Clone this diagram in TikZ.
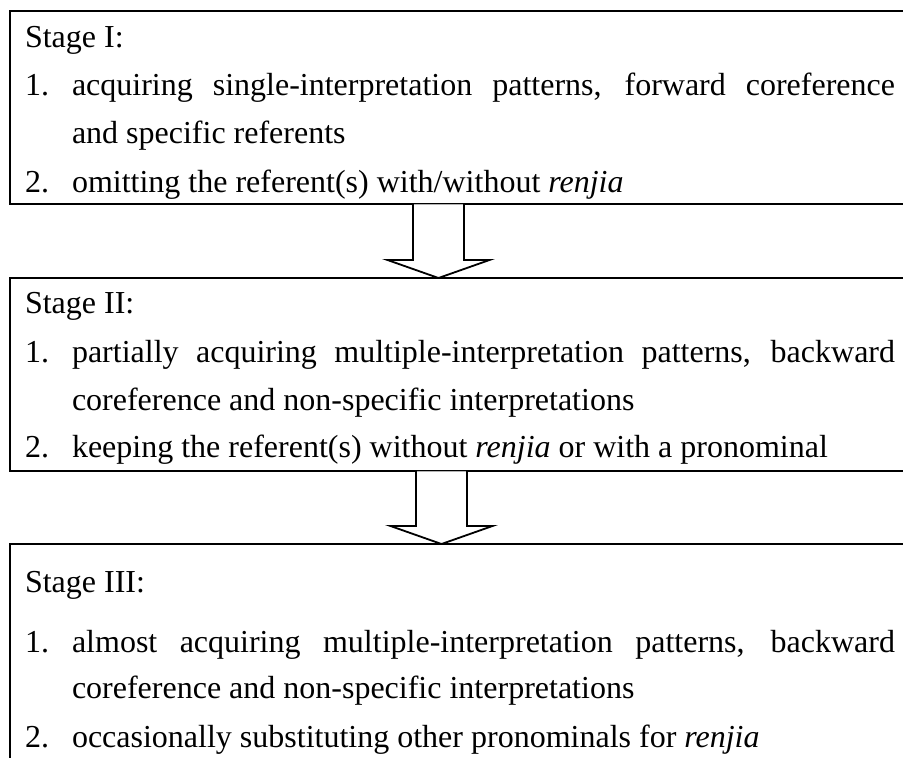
\documentclass[tikz,border=0pt]{standalone}
\usepackage{fontspec}
\setmainfont{Liberation Serif}
\usetikzlibrary{calc}
\begin{document}
\begin{tikzpicture}[x=1pt,y=-1pt,
  stagebox/.style={draw, line width=2.6pt, inner sep=0pt, outer sep=0pt, minimum width=940pt, anchor=north west},
  txt/.style={anchor=base west, inner sep=0pt, outer sep=0pt, font=\fontsize{32}{37}\selectfont},
  arrowfill/.style={fill=white, draw=none},
  arrowline/.style={draw, line width=1.8pt, line join=miter},
  arrowtop/.style={draw=gray!60, line width=0.8pt}]
\clip (0,0) rectangle (903,758);
\fill[white] (0,0) rectangle (903,758);

% boxes
\node[stagebox, minimum height=193pt] (b1) at (10,11) {};
\node[stagebox, minimum height=193pt] (b2) at (10,278) {};
\node[stagebox, minimum height=300pt] (b3) at (10,544) {};

% box 1 text
\node[txt] (s1) at (25,47) {Stage I:};
\node[txt] (n11) at (25,95) {1.};
\node[txt] (t11) at (72,95) {\makebox[823pt][s]{acquiring single-interpretation patterns, forward coreference}};
\node[txt] (t12) at (72,143) {and specific referents};
\node[txt] (n12) at (25,192) {2.};
\node[txt] (t13) at (72,192) {omitting the referent(s) with/without \textit{renjia}};

% box 2 text
\node[txt] (s2) at (25,313) {Stage II:};
\node[txt] (n21) at (25,362) {1.};
\node[txt] (t21) at (72,362) {\makebox[823pt][s]{partially acquiring multiple-interpretation patterns, backward}};
\node[txt] (t22) at (72,410) {coreference and non-specific interpretations};
\node[txt] (n22) at (25,457) {2.};
\node[txt] (t23) at (72,457) {keeping the referent(s) without \textit{renjia} or with a pronominal};

% box 3 text
\node[txt] (s3) at (25,592) {Stage III:};
\node[txt] (n31) at (25,652) {1.};
\node[txt] (t31) at (72,652) {\makebox[823pt][s]{almost acquiring multiple-interpretation patterns, backward}};
\node[txt] (t32) at (72,698) {coreference and non-specific interpretations};
\node[txt] (n32) at (25,747) {2.};
\node[txt] (t33) at (72,747) {occasionally substituting other pronominals for \textit{renjia}};

% block arrows
\coordinate (c1) at (438.5,0);
\coordinate (c2) at (441.5,0);
\path (c1 |- b1.south) coordinate (top1) (c1 |- b2.north) coordinate (tip1);
\path (c2 |- b2.south) coordinate (top2) (c2 |- b3.north) coordinate (tip2);

\foreach \t/\p in {top1/tip1, top2/tip2}{
  \fill[arrowfill] ($(\t)+(-25.5,0)$) -- ($(\p)+(-25.5,-18)$) -- ($(\p)+(-51,-18)$) -- (\p)
     -- ($(\p)+(51,-18)$) -- ($(\p)+(25.5,-18)$) -- ($(\t)+(25.5,0)$) -- cycle;
  \draw[arrowtop] ($(\t)+(-25.5,0)$) -- ($(\t)+(25.5,0)$);
  \draw[arrowline] ($(\t)+(-25.5,0)$) -- ($(\p)+(-25.5,-18)$) -- ($(\p)+(-51,-18)$) -- (\p)
     -- ($(\p)+(51,-18)$) -- ($(\p)+(25.5,-18)$) -- ($(\t)+(25.5,0)$);
}
\end{tikzpicture}
\end{document}
